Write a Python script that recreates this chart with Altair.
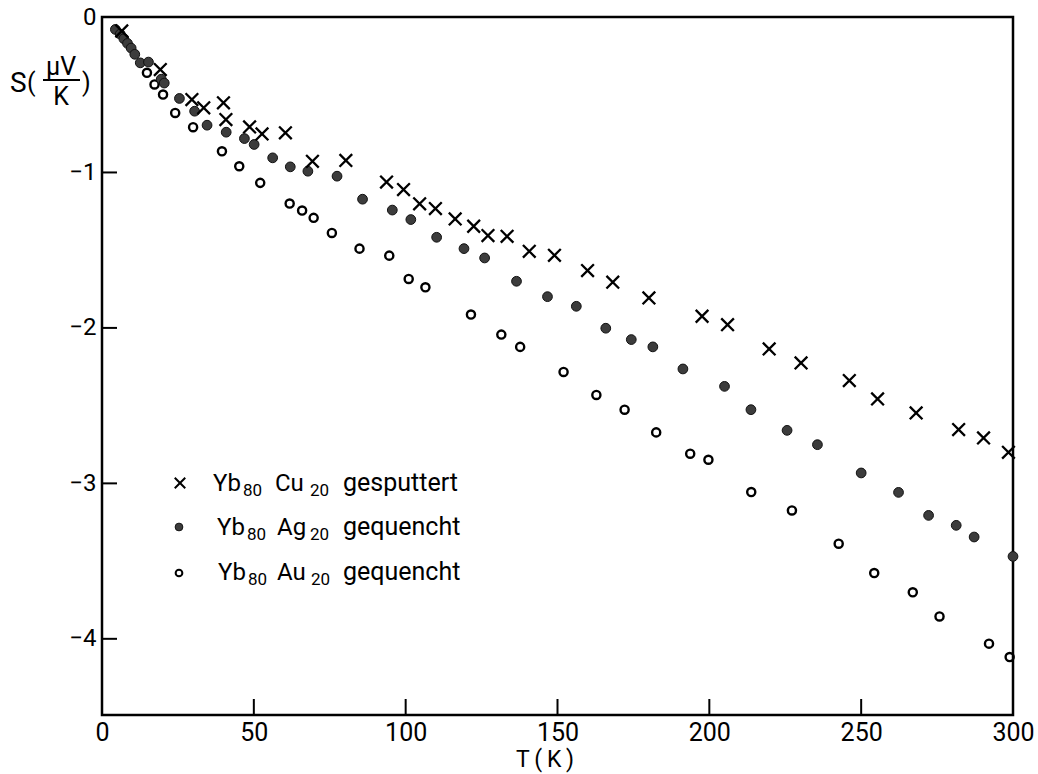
import altair as alt
import pandas as pd

# ---- data ----
cu_T = [6.5, 19.2, 29.6, 33.5, 40.0, 40.8, 48.6, 52.7, 60.4, 69.3, 80.3, 93.7, 99.3, 104.6,
        109.8, 116.3, 122.4, 127.1, 133.4, 140.7, 149.0, 159.9, 168.2, 180.1, 197.6, 206.0,
        219.7, 230.2, 246.1, 255.4, 268.1, 282.1, 290.3, 298.5]
cu_S = [-0.09, -0.338, -0.531, -0.584, -0.552, -0.660, -0.707, -0.752, -0.745, -0.928, -0.923,
        -1.062, -1.110, -1.202, -1.232, -1.299, -1.346, -1.406, -1.411, -1.507, -1.533, -1.631,
        -1.706, -1.807, -1.925, -1.979, -2.135, -2.225, -2.339, -2.457, -2.547, -2.654, -2.708,
        -2.800]

ag_T = [4.4, 6.0, 7.2, 8.4, 9.6, 10.8, 12.6, 15.3, 19.5, 20.5, 25.5, 30.5, 34.6, 40.9, 46.9,
        50.1, 56.2, 62.0, 67.8, 77.4, 85.8, 95.6, 101.7, 110.2, 119.2, 126.0, 136.5, 146.7,
        156.2, 165.9, 174.3, 181.4, 191.3, 205.0, 213.7, 225.6, 235.6, 250.0, 262.3, 272.2,
        281.3, 287.2, 300.0]
ag_S = [-0.08, -0.11, -0.14, -0.17, -0.20, -0.24, -0.295, -0.29, -0.40, -0.425, -0.524, -0.606,
        -0.696, -0.741, -0.782, -0.820, -0.906, -0.964, -0.992, -1.024, -1.172, -1.242, -1.303,
        -1.417, -1.490, -1.550, -1.700, -1.799, -1.861, -2.002, -2.075, -2.122, -2.264, -2.376,
        -2.526, -2.659, -2.751, -2.933, -3.058, -3.206, -3.270, -3.345, -3.470]

au_T = [14.8, 17.3, 20.1, 24.1, 30.0, 39.5, 45.2, 52.1, 61.8, 65.9, 69.7, 75.7, 84.8, 94.6,
        101.0, 106.5, 121.5, 131.5, 137.7, 152.0, 162.8, 172.1, 182.5, 193.7, 199.7, 213.8,
        227.2, 242.6, 254.3, 267.0, 275.8, 292.1, 298.9]
au_S = [-0.359, -0.434, -0.499, -0.617, -0.709, -0.864, -0.960, -1.067, -1.200, -1.245, -1.292,
        -1.389, -1.490, -1.535, -1.685, -1.739, -1.914, -2.043, -2.122, -2.283, -2.431, -2.526,
        -2.672, -2.809, -2.848, -3.056, -3.174, -3.388, -3.577, -3.701, -3.856, -4.031, -4.117]

x_ticks = [50, 100, 150, 200, 250]
y_ticks = [-1, -2, -3, -4]
x_labels = [0, 50, 100, 150, 200, 250, 300]
y_labels = [0, -1, -2, -3, -4]

legend_rows = [
    ("Yb", "80", "Cu", "20", "gesputtert"),
    ("Yb", "80", "Ag", "20", "gequencht"),
    ("Yb", "80", "Au", "20", "gequencht"),
]

# ---- layout / style ----
FONT = "Roboto"
W, H = 911, 698
X_DOM = [0, 300]
Y_DOM = [-4.49, 0]
X_PATH = "M-1,-1L1,1M-1,1L1,-1"

xs = alt.Scale(domain=X_DOM, nice=False, zero=False)
ys = alt.Scale(domain=Y_DOM, nice=False, zero=False)

one = pd.DataFrame({"k": [0]})

xenc = alt.X("T:Q", scale=xs,
             axis=alt.Axis(values=x_labels, title=None, grid=False, domain=False, ticks=False,
                           tickSize=0, labelFontSize=25, labelPadding=5, labelFont=FONT,
                           labelColor="black", labelFlush=False, labelBound=False, format="d"))
yenc = alt.Y("S:Q", scale=ys,
             axis=alt.Axis(values=y_labels, title=None, grid=False, domain=False, ticks=False,
                           tickSize=0, labelFontSize=24, labelPadding=6, labelFont=FONT,
                           labelColor="black", labelFlush=False, labelBound=False, format="d"))

cu = alt.Chart(pd.DataFrame({"T": cu_T, "S": cu_S})).mark_point(
    shape=X_PATH, filled=False, stroke="black", strokeWidth=2.3, size=160, opacity=1
).encode(x=xenc, y=yenc)

ag = alt.Chart(pd.DataFrame({"T": ag_T, "S": ag_S})).mark_point(
    shape="circle", filled=True, fill="#3c3c3c", stroke="#111", strokeWidth=1, size=95, opacity=1
).encode(x=alt.X("T:Q", scale=xs), y=alt.Y("S:Q", scale=ys))

au = alt.Chart(pd.DataFrame({"T": au_T, "S": au_S})).mark_point(
    shape="circle", filled=False, stroke="black", strokeWidth=2.4, size=66, opacity=1
).encode(x=alt.X("T:Q", scale=xs), y=alt.Y("S:Q", scale=ys))

xt = alt.Chart(pd.DataFrame({"T": x_ticks})).mark_rule(color="black", strokeWidth=2).encode(
    x=alt.X("T:Q", scale=xs), y=alt.value(H), y2=alt.value(H - 16))
yt = alt.Chart(pd.DataFrame({"S": y_ticks})).mark_rule(color="black", strokeWidth=2).encode(
    y=alt.Y("S:Q", scale=ys), x=alt.value(0), x2=alt.value(15))


def txt(s, x, y, size, align="left"):
    return alt.Chart(one).mark_text(
        text=s, font=FONT, fontSize=size, align=align, baseline="alphabetic", color="black"
    ).encode(x=alt.value(x), y=alt.value(y))


layers = [xt, yt, au, ag, cu]

# y-axis title S(μV/K)
layers += [
    txt("S", -92, 75, 28),
    txt("(", -75, 74, 25),
    txt("μV", -41, 58, 25, "center"),
    alt.Chart(one).mark_rule(color="black", strokeWidth=2).encode(
        x=alt.value(-59), x2=alt.value(-22), y=alt.value(63)),
    txt("K", -41, 88, 25, "center"),
    txt(")", -20, 74, 25),
]
# x-axis title
layers.append(txt("T\u2009(\u2009K\u2009)", 443, 750, 23, "center"))

# legend
row_y = [474, 518, 563]
mk_y = [466, 510, 556]
x_main = [[111, 173, 241], [115, 175, 241], [116, 175, 241]]
x_sub = [[141, 208], [145, 208], [146, 209]]
for i, (a, s1, b, s2, c) in enumerate(legend_rows):
    layers += [
        txt(a, x_main[i][0], row_y[i], 24),
        txt(s1, x_sub[i][0], row_y[i] + 5, 17),
        txt(b, x_main[i][1], row_y[i], 24),
        txt(s2, x_sub[i][1], row_y[i] + 5, 17),
        txt(c, x_main[i][2], row_y[i], 25),
    ]

layers += [
    alt.Chart(one).mark_point(shape=X_PATH, filled=False, stroke="black", strokeWidth=2,
                              size=110, opacity=1).encode(x=alt.value(78), y=alt.value(mk_y[0])),
    alt.Chart(one).mark_point(shape="circle", filled=True, fill="#3c3c3c", stroke="#111",
                              strokeWidth=1, size=60, opacity=1).encode(x=alt.value(77), y=alt.value(mk_y[1])),
    alt.Chart(one).mark_point(shape="circle", filled=False, stroke="black", strokeWidth=2,
                              size=45, opacity=1).encode(x=alt.value(77), y=alt.value(mk_y[2])),
]

chart = alt.layer(*layers).properties(
    width=W, height=H,
    autosize=alt.AutoSizeParams(type="none"),
    padding={"left": 102, "top": 17, "right": 25, "bottom": 59},
    background="white",
).configure_view(stroke="black", strokeWidth=2.5)

chart.save("out.html", embed_options={"renderer": "svg", "actions": False})
